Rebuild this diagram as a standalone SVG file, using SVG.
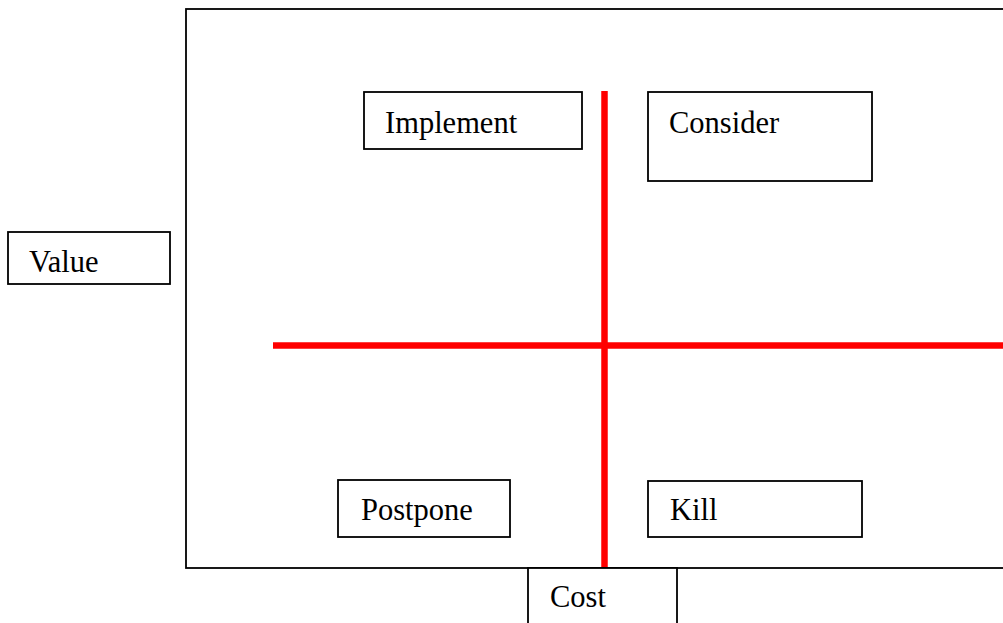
<svg xmlns="http://www.w3.org/2000/svg" width="1003" height="623" viewBox="0 0 1003 623">
<style>
.box{fill:#fff;stroke:#000;stroke-width:1.8}
.lbl{font-family:"Liberation Serif","Times New Roman",serif;font-size:30.5px;fill:#000}
.axis{stroke:#ff0000;stroke-width:6.5;fill:none}
</style>
<rect width="1003" height="623" fill="#fff"/>
<g id="frame"><rect class="box" x="186" y="9" width="830" height="559"/></g>
<g id="connectors">
<line class="axis" x1="604.5" y1="91" x2="604.5" y2="567"/>
<line class="axis" x1="273" y1="345.5" x2="1010" y2="345.5"/>
</g>
<g id="implement"><rect class="box" x="364" y="92" width="218" height="57"/><text class="lbl" x="385" y="132.5">Implement</text></g>
<g id="consider"><rect class="box" x="648" y="92" width="224" height="89"/><text class="lbl" x="669" y="132.5">Consider</text></g>
<g id="value"><rect class="box" x="8" y="232" width="162" height="52"/><text class="lbl" x="29" y="271.5">Value</text></g>
<g id="postpone"><rect class="box" x="338" y="480" width="172" height="57"/><text class="lbl" x="361" y="519.5">Postpone</text></g>
<g id="kill"><rect class="box" x="648" y="481" width="214" height="56"/><text class="lbl" x="670" y="519.5">Kill</text></g>
<g id="cost"><rect class="box" x="528" y="568" width="149" height="70"/><text class="lbl" x="550" y="607">Cost</text></g>
</svg>
